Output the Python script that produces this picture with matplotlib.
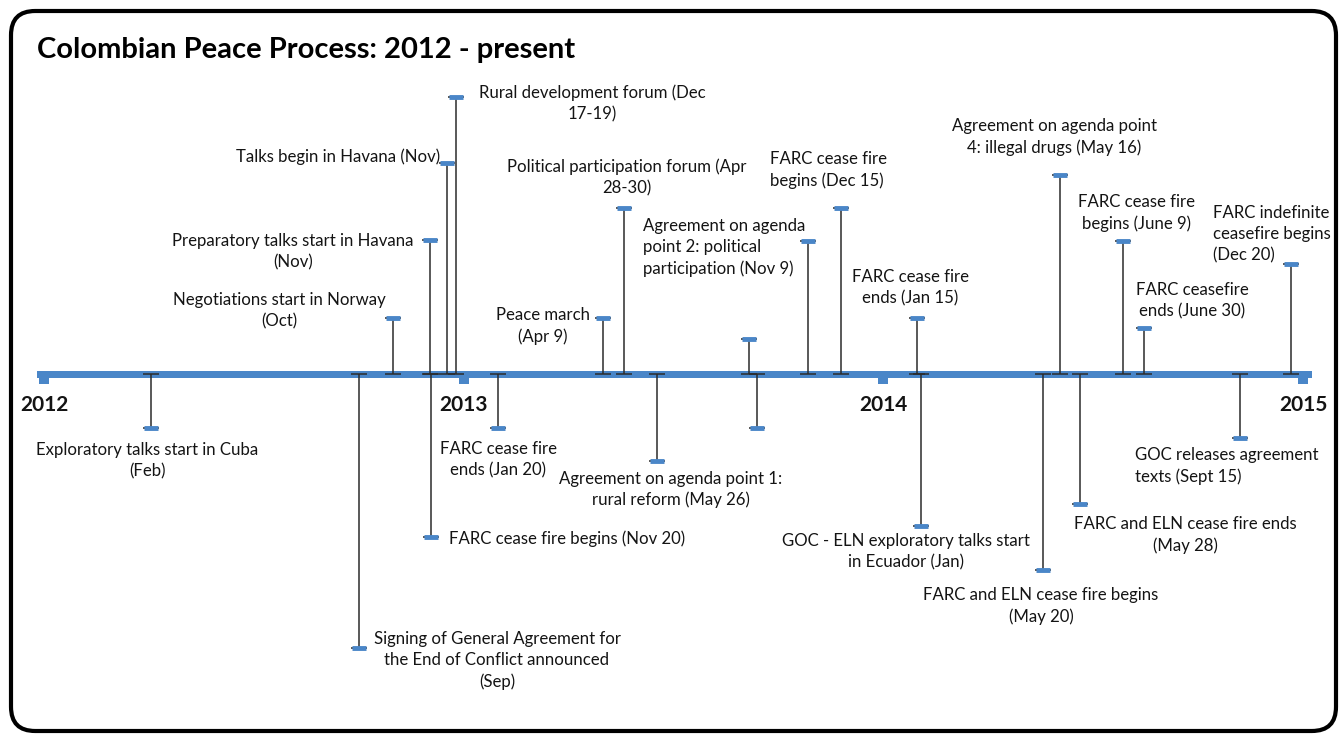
import matplotlib
matplotlib.use("Agg")
import matplotlib.pyplot as plt
from matplotlib.transforms import Affine2D
from matplotlib.patches import FancyBboxPatch

# ---------------- data ----------------
TITLE = "Colombian Peace Process: 2012 - present"
YEARS = [2012, 2013, 2014, 2015]
YEAR_LABELS = ["2012", "2013", "2014", "2015"]

EVENT_DATES = [2012.255, 2012.751, 2012.832, 2012.920, 2012.922, 2012.960,
               2012.982, 2013.082, 2013.332, 2013.382, 2013.461, 2013.680,
               2013.699, 2013.820, 2013.899, 2014.080, 2014.090, 2014.380,
               2014.421, 2014.468, 2014.571, 2014.621, 2014.850, 2014.971]
EVENT_HEIGHTS = [-54, -274, 56, 134, -163, 211,
                 277, -54, 56, 166, -87, 35,
                 -54, 133, 166, 56, -152, -196,
                 199, -130, 133, 46, -64, 110]
EVENT_LABELS = [
    "Exploratory talks start in Cuba\n(Feb)",
    "Signing of General Agreement for\nthe End of Conflict announced\n(Sep)",
    "Negotiations start in Norway\n(Oct)",
    "Preparatory talks start in Havana\n(Nov)",
    "FARC cease fire begins (Nov 20)",
    "Talks begin in Havana (Nov)",
    "Rural development forum (Dec\n17-19)",
    "FARC cease fire\nends (Jan 20)",
    "Peace march\n(Apr 9)",
    "Political participation forum (Apr\n28-30)",
    "Agreement on agenda point 1:\nrural reform (May 26)",
    "",
    "",
    "Agreement on agenda\npoint 2: political\nparticipation (Nov 9)",
    "FARC cease fire\nbegins (Dec 15)",
    "FARC cease fire\nends (Jan 15)",
    "GOC - ELN exploratory talks start\nin Ecuador (Jan)",
    "FARC and ELN cease fire begins\n(May 20)",
    "Agreement on agenda point\n4: illegal drugs (May 16)",
    "FARC and ELN cease fire ends\n(May 28)",
    "FARC cease fire\nbegins (June 9)",
    "FARC ceasefire\nends (June 30)",
    "GOC releases agreement\ntexts (Sept 15)",
    "FARC indefinite\nceasefire begins\n(Dec 20)",
]

# ---------------- layout (pixel positions of label blocks) ----------------
LABEL_POS = [
    (147, 461, "center"), (497, 660.5, "center"), (279, 310.5, "center"),
    (293, 252, "center"), (449, 539, "left"), (338, 157, "center"),
    (592, 103, "center"), (498, 460, "center"), (543, 326, "center"),
    (627, 177, "center"), (671, 489.5, "center"), None,
    None, (643, 247.5, "left"), (770, 170, "left"),
    (910, 288, "center"), (906, 552, "center"), (1041, 606, "center"),
    (1054, 137, "center"), (1185, 535, "center"), (1136, 213, "center"),
    (1192, 301, "center"), (1135, 466, "left"), (1213, 234.5, "left"),
]

W, H = 1343, 734
DPI = 100
BLUE = "#4A86C8"
TXT = "#141414"
FONT = ["Lato", "DejaVu Sans"]
plt.rcParams["font.family"] = FONT

fig = plt.figure(figsize=(W / DPI, H / DPI), dpi=DPI)
px = Affine2D().scale(1 / W, -1 / H).translate(0, 1) + fig.transFigure

x0_px, axis_px, year_px = 44, 374, 419.7
ax = fig.add_axes([0, 0, 1, 1])
ax.set_xlim(2012 - x0_px / year_px, 2012 + (W - x0_px) / year_px)
ax.set_ylim(-(H - axis_px), axis_px)
ax.patch.set_alpha(0)
for s in ["top", "right", "left"]:
    ax.spines[s].set_visible(False)
ax.set_yticks([])
sp = ax.spines["bottom"]
sp.set_position(("data", 0))
sp.set_color(BLUE)
sp.set_linewidth(7 * 72 / DPI)
sp.set_bounds(2012 - 4 / year_px, 2015 + 5 / year_px)
ax.set_xticks(YEARS)
ax.set_xticklabels(YEAR_LABELS, fontsize=15, fontweight="bold", color=TXT)
ax.tick_params(axis="x", direction="out", length=10 * 72 / DPI,
               width=10 * 72 / DPI, color=BLUE, pad=8)

# event stems with caps at the axis end
lower = [h if h > 0 else 0 for h in EVENT_HEIGHTS]
upper = [0 if h > 0 else -h for h in EVENT_HEIGHTS]
ax.errorbar(EVENT_DATES, EVENT_HEIGHTS, yerr=[lower, upper], fmt="none",
            ecolor="#2b2b2b", elinewidth=1.1, capsize=6, capthick=1.1, zorder=3)
ax.plot(EVENT_DATES, EVENT_HEIGHTS, linestyle="none", marker="_",
        markersize=10, markeredgewidth=3.5, color=BLUE, zorder=4)

for lab, pos in zip(EVENT_LABELS, LABEL_POS):
    if not lab or pos is None:
        continue
    x, y, ha = pos
    fig.text(x, y, lab, transform=px, ha=ha, va="center", fontsize=12.1,
             color=TXT, multialignment="center" if ha == "center" else "left",
             linespacing=1.4)

fig.text(37, 50, TITLE, transform=px, ha="left", va="center",
         fontsize=21, fontweight="bold", color="black")

frame = FancyBboxPatch((11 / W, 3 / H), (1336 - 11) / W, (731 - 11) / H,
                       boxstyle="round,pad=0,rounding_size=0.018",
                       transform=fig.transFigure, fill=False,
                       edgecolor="black", linewidth=3, mutation_aspect=W / H)
fig.patches.append(frame)

fig.savefig("out.png", dpi=DPI, facecolor="white")
